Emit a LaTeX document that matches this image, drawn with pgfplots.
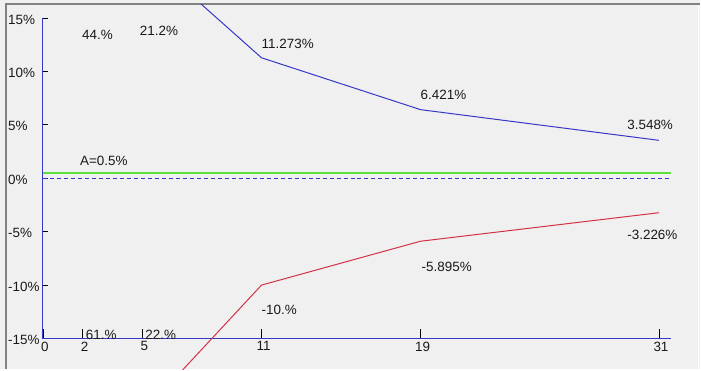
\documentclass[border=0pt]{standalone}
\usepackage{fontspec}
\setmainfont{Liberation Sans}
\usepackage{pgfplots}
\pgfplotsset{compat=1.18}
\definecolor{bg}{RGB}{240,240,240}
\definecolor{axblue}{RGB}{55,55,200}
\definecolor{lnred}{RGB}{210,50,70}
\definecolor{lngreen}{RGB}{90,225,60}
\definecolor{frm}{RGB}{130,130,130}
\newcommand\lf{\fontsize{13.5}{15}\selectfont}
\tikzset{lab/.style={anchor=west, inner sep=0pt, font=\lf, text=black!90}}
\begin{document}
\begin{tikzpicture}[x=1bp,y=1bp]
\fill[bg] (0,0) rectangle (701,370);
\draw[frm,line width=2bp] (6,0) -- (6,366) -- (701,366);
\draw[white,line width=1bp] (699.5,0) -- (699.5,365);
\path[use as bounding box] (0,0) rectangle (701,370);
\begin{scope}
\clip (7,0) rectangle (699,365);
\begin{axis}[
  at={(43bp,31bp)}, anchor=south west,
  x=19.9bp, y=10.7bp,
  xmin=0, xmax=31.6, ymin=-15, ymax=15,
  axis x line=bottom, axis y line=left,
  axis line style={axblue, line width=1bp, -},
  clip=false,
  tick align=inside,
  xtick={0,2,5,11,19,31},
  xticklabels={0,2,5,11,19,31},
  ytick={-15,-10,-5,0,5,10,15},
  yticklabels={-15\%,-10\%,-5\%,0\%,5\%,10\%,15\%},
  xtick style={black, line width=0.8bp, /pgfplots/major tick length=10bp},
  ytick style={black, line width=0.8bp, /pgfplots/major tick length=5bp},
  xticklabel style={font=\lf, anchor=north, inner sep=0pt, yshift=-3bp, xshift=2bp, text=black!90},
  yticklabel style={font=\lf, anchor=west, inner sep=0pt, xshift=-35bp, yshift=-1.5bp, text=black!90},
]
\addplot[axblue, line width=1bp] coordinates {(2,44) (5,21.2) (11,11.273) (19,6.421) (31,3.548)};
\addplot[lnred, line width=1bp] coordinates {(2,-61) (5,-22) (11,-10) (19,-5.895) (31,-3.226)};
\addplot[lngreen, line width=1.4bp] coordinates {(0,0.5) (31.6,0.5)};
\addplot[axblue, line width=1bp, dash pattern=on 4bp off 3bp] coordinates {(0,0) (31.6,0)};
\node[lab] at (axis cs:1.96,13.46) {44.\%};
\node[lab] at (axis cs:4.87,13.83) {21.2\%};
\node[lab] at (axis cs:11.0,12.6) {11.273\%};
\node[lab] at (axis cs:19.0,7.76) {6.421\%};
\node[lab] at (axis cs:29.4,4.95) {3.548\%};
\node[lab] at (axis cs:1.86,1.59) {A=0.5\%};
\node[lab] at (axis cs:11.0,-12.29) {-10.\%};
\node[lab] at (axis cs:19.05,-8.27) {-5.895\%};
\node[lab] at (axis cs:29.4,-5.33) {-3.226\%};
\node[lab] at (axis cs:2.15,-14.7) {61.\%};
\node[lab] at (axis cs:5.15,-14.7) {22.\%};
\end{axis}
\end{scope}
\end{tikzpicture}
\end{document}
